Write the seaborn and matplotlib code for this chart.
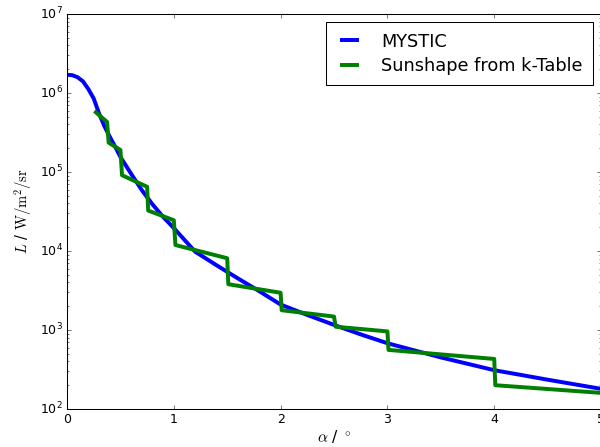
import numpy as np
import pandas as pd
import seaborn as sns
from matplotlib import pyplot as plt

# MYSTIC radiance profile
alpha_mystic = [0.0, 0.05, 0.10, 0.15, 0.20, 0.25, 0.30, 0.35, 0.40, 0.45, 0.50,
                0.6, 0.7, 0.8, 0.9, 1.0, 1.2, 1.4, 1.6, 1.8, 2.0, 2.25, 2.5,
                2.75, 3.0, 3.5, 4.0, 4.5, 5.0]
L_mystic = [1.70e6, 1.68e6, 1.58e6, 1.40e6, 1.12e6, 8.5e5, 5.5e5, 3.8e5, 2.8e5,
            2.1e5, 1.55e5, 9.5e4, 5.9e4, 3.9e4, 2.7e4, 1.95e4, 9.8e3, 6.6e3,
            4.5e3, 3.1e3, 2.1e3, 1.55e3, 1.16e3, 8.8e2, 6.8e2, 4.5e2, 3.1e2,
            2.35e2, 1.8e2]

# sunshape from k-table (step-like)
alpha_ktab = [0.27, 0.375, 0.39, 0.5, 0.515, 0.75, 0.76, 1.0, 1.015, 1.5, 1.51,
              2.0, 2.01, 2.5, 2.515, 3.0, 3.01, 4.0, 4.01, 5.0]
L_ktab = [5.7e5, 4.3e5, 2.35e5, 1.9e5, 9.1e4, 6.5e4, 3.25e4, 2.45e4, 1.19e4,
          8.1e3, 3.8e3, 2.96e3, 1.78e3, 1.48e3, 1.1e3, 9.6e2, 5.6e2, 4.3e2,
          2.0e2, 1.6e2]

df_m = pd.DataFrame({'alpha': alpha_mystic, 'L': L_mystic})
df_k = pd.DataFrame({'alpha': alpha_ktab, 'L': L_ktab})

plt.style.use('classic')
plt.rcParams['mathtext.fontset'] = 'cm'

fig = plt.figure(figsize=(8, 5.96), dpi=75, facecolor='white')
ax = fig.add_axes([0.1117, 0.085, 0.89, 0.8837])

sns.lineplot(data=df_m, x='alpha', y='L', ax=ax, color='b', linewidth=3.8,
             estimator=None, sort=False, label='MYSTIC')
sns.lineplot(data=df_k, x='alpha', y='L', ax=ax, color='g', linewidth=3.8,
             estimator=None, sort=False, label='Sunshape from k-Table')

ax.set_yscale('log')
ax.set_xlim(0, 5)
ax.set_ylim(1e2, 1e7)
ax.set_xlabel(r'$\alpha$ / $^\circ$', fontsize=15, labelpad=2)
ax.set_ylabel(r'$L$ / $\mathrm{W/m^2/sr}$', fontsize=14)
ax.legend(loc='upper right', fontsize=17, handlelength=1.45,
          handletextpad=1.05, borderpad=0.6, labelspacing=0.35,
          borderaxespad=0.45)

fig.savefig('out.png', dpi=75, facecolor='white')
